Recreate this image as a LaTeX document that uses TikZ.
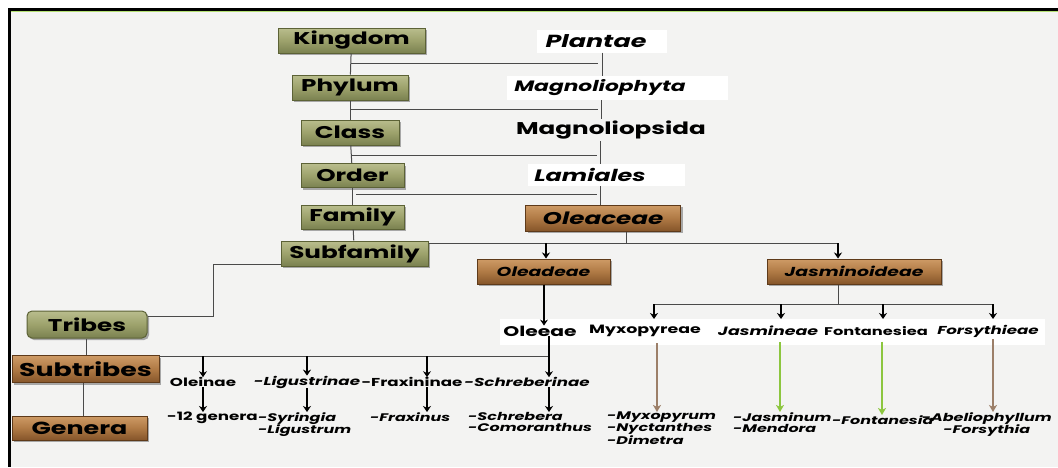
\documentclass[tikz,border=0pt]{standalone}
\usepackage{fontspec}
\newfontfamily\pf{Poppins}[FakeStretch=1.45]
\usetikzlibrary{shadows,arrows.meta}
\definecolor{bg}{HTML}{F3F3F2}
\definecolor{gtop}{HTML}{B9BD8D}
\definecolor{gmid}{HTML}{9DA26C}
\definecolor{gbot}{HTML}{7A8150}
\definecolor{gdraw}{HTML}{5C6236}
\definecolor{btop}{HTML}{CE9B66}
\definecolor{bmid}{HTML}{B07A45}
\definecolor{bbot}{HTML}{85552A}
\definecolor{bdraw}{HTML}{5E3A1A}
\definecolor{arbrown}{HTML}{9C7F69}
\definecolor{argreen}{HTML}{8CC63F}
\definecolor{ln}{HTML}{4A4A4A}
\newcommand\fs[1]{\fontsize{#1}{#1}\selectfont}
\tikzset{
  base/.style={inner sep=0pt, align=center, text=black,
    drop shadow={shadow xshift=2pt,shadow yshift=-2pt,opacity=.45,fill=black!70}},
  gbox/.style={base, top color=gtop, bottom color=gbot, middle color=gmid,
    draw=gdraw, line width=1pt, font=\pf\bfseries\fs{17}},
  bbox/.style={base, top color=btop, bottom color=bbot, middle color=bmid,
    draw=bdraw, line width=1pt, font=\pf\bfseries\fs{17}},
  wbox/.style={fill=white, inner sep=0pt},
  lab/.style={inner sep=0pt, font=\pf\bfseries\itshape\fs{16}},
  sm/.style={inner sep=0pt, font=\pf\bfseries\fs{11.5}},
  smi/.style={inner sep=0pt, align=left, font=\pf\bfseries\itshape\fontsize{11.5}{11.5}\selectfont},
  gi/.style={inner sep=0pt, align=left, font=\pf\bfseries\itshape\fontsize{11}{11.5}\selectfont},
  conn/.style={draw=ln, line width=1pt},
  darr/.style={draw=black, line width=1.6pt, -{Stealth[length=6pt,width=8pt,inset=2pt]}},
  carr/.style={line width=1.8pt, -{Stealth[length=7pt,width=8pt,inset=2pt]}}
}
\begin{document}
\begin{tikzpicture}[x=1pt,y=-1pt]
\useasboundingbox (0,0) rectangle (1058,467);
\fill[white] (0,0) rectangle (1058,467);
\fill[bg] (11,11) rectangle (1058,467);
\fill[black] (8,8) rectangle (1058,11);
\fill[black] (8,8) rectangle (11,467);
\draw[yellow!50!green!60, line width=0.6pt] (11,11.6) -- (1058,11.6);
% left column
\node[gbox, minimum width=147pt, minimum height=25pt] (king) at (351.5,40.5) {Kingdom};
\node[gbox, minimum width=116pt, minimum height=25pt] (phyl) at (350,87.5) {Phylum};
\node[gbox, minimum width=98pt, minimum height=25pt] (clas) at (350,132.5) {Class};
\node[gbox, minimum width=103pt, minimum height=24pt] (orde) at (352.5,175.5) {Order};
\node[gbox, minimum width=103pt, minimum height=24pt] (fami) at (352.5,217) {Family};
\node[gbox, minimum width=147pt, minimum height=25pt] (subf) at (354.5,253.5) {Subfamily};
\node[gbox, rounded corners=5pt, minimum width=120pt, minimum height=27pt] (trib) at (87,324.5) {Tribes};
\node[bbox, minimum width=147pt, minimum height=27pt, font=\pf\bfseries\fs{18.5}] (subt) at (85.5,369) {Subtribes};
\node[bbox, minimum width=135pt, minimum height=24pt, font=\pf\bfseries\fs{17.5}] (gene) at (79.5,428) {Genera};
% right column: white panels and labels
\node[wbox, minimum width=130pt, minimum height=23pt] (plan) at (602,41) {};
\node[lab, font=\pf\bfseries\itshape\fs{17.5}] at (596,41) {Plantae};
\node[wbox, minimum width=221pt, minimum height=24pt] (magp) at (617,88) {};
\node[lab, font=\pf\bfseries\itshape\fs{15}] at (600,88) {Magnoliophyta};
\node[inner sep=0pt, minimum height=22pt, font=\pf\bfseries\fs{17}] (mags) at (611,130) {Magnoliopsida};
\node[wbox, minimum width=157pt, minimum height=22pt] (lami) at (606,175) {};
\node[lab, font=\pf\bfseries\itshape\fs{16.5}] at (590,175) {Lamiales};
\node[bbox, minimum width=155pt, minimum height=26pt, font=\pf\bfseries\itshape\fs{17}] (olea) at (603,218) {Oleaceae};
\node[bbox, minimum width=133pt, minimum height=25pt, font=\pf\bfseries\itshape\fs{13}] (olead) at (543.5,271.5) {Oleadeae};
\node[bbox, minimum width=174pt, minimum height=25pt, font=\pf\bfseries\itshape\fs{13}] (jasm) at (854,271.5) {Jasminoideae};
% vertical links left
\draw[conn] (king) -- (phyl);
\draw[conn] (phyl) -- (clas);
\draw[conn] (clas) -- (orde);
\draw[conn] (orde) -- (fami);
\draw[conn] (fami) -- (subf);
% vertical links right
\draw[conn] (plan.south -| 602,0) -- (magp.north -| 602,0);
\draw[conn] (magp.south -| 601,0) -- (mags.north -| 601,0);
\draw[conn] (mags.south -| 600,0) -- (lami.north -| 600,0);
\draw[conn] (lami.south -| 600,0) -- (olea.north -| 600,0);
% horizontal links
\coordinate (h1a) at (351,63); \coordinate (h1b) at (598,63);
\coordinate (h2a) at (351,109); \coordinate (h2b) at (598,109);
\coordinate (h3a) at (352,155); \coordinate (h3b) at (597,155);
\coordinate (h4a) at (356,194); \coordinate (h4b) at (597,194);
\draw[conn] (h1a) -- (h1b);
\draw[conn] (h2a) -- (h2b);
\draw[conn] (h3a) -- (h3b);
\draw[conn] (h4a) -- (h4b);
% subfamily bus
\coordinate (sb1) at (626,243); \coordinate (sb2) at (838,243); \coordinate (sb0) at (546,243);
\draw[conn] (subf.east |- sb1) -- (sb2);
\draw[conn] (olea.south -| sb1) -- (sb1);
\draw[darr] (sb0) -- (olead.north -| sb0);
\draw[darr] (sb2) -- (jasm.north -| sb2);
% subfamily to tribes
\coordinate (tr1) at (213,316); \coordinate (tr2) at (213,264);
\draw[conn] (trib.east |- tr1) -- (tr1) -- (tr2) -- (subf.west |- tr2);
\draw[conn] (trib.south -| 86,0) -- (subt.north -| 86,0);
\draw[conn] (subt.south -| 83,0) -- (gene.north -| 83,0);
% tribes row
\fill[white] (500,319) rectangle (1045,345);
\node[sm, font=\pf\bfseries\fs{14}] (olee) at (540,331) {Oleeae};
\node[sm, font=\pf\bfseries\fs{12}] (myxo) at (645,331) {Myxopyreae};
\node[sm, font=\pf\bfseries\itshape\fs{12}] (jasn) at (768,331) {Jasmineae};
\node[sm, font=\pf\bfseries\fs{11.2}] (font) at (876,331) {Fontanesiea};
\node[sm, font=\pf\bfseries\itshape\fs{11.5}] (fors) at (988,331) {Forsythieae};
\draw[darr, line width=2pt] (olead.south -| 544,0) -- (olee.north -| 544,0);
\coordinate (jb) at (838,304);
\coordinate (ja1) at (654,304); \coordinate (ja2) at (781,304); \coordinate (ja3) at (883,304); \coordinate (ja4) at (993,304);
\draw[conn] (jasm.south -| jb) -- (jb);
\draw[conn] (ja1) -- (ja4);
\draw[darr] (ja1) -- ++(0,15);
\draw[darr] (ja2) -- ++(0,15);
\draw[darr] (ja3) -- ++(0,15);
\draw[darr] (ja4) -- ++(0,15);
% subtribes row
\node[sm] (olei) at (203,382) {Oleinae};
\node[smi] (ligu) at (307,382) {-Ligustrinae};
\node[sm] (frax) at (412,382) {-Fraxininae};
\node[smi] (schr) at (527,382) {-Schreberinae};
\coordinate (s0) at (159,356);
\coordinate (s1) at (203,356); \coordinate (s2) at (307,356); \coordinate (s3) at (427,356); \coordinate (s4) at (549,356);
\draw[conn] (s0) -- (s4);
\draw[darr] (s1) -- (olei.north -| s1);
\draw[darr] (s2) -- (ligu.north -| s2);
\draw[darr] (s3) -- (frax.north -| s3);
\draw[darr] (olee.south -| s4) -- (schr.north -| s4);
% genera row
\node[sm, anchor=north west] (g1) at (167,412) {-12 genera};
\node[gi, anchor=north west] (g2) at (258,412) {-Syringia\\-Ligustrum};
\node[gi, anchor=north west] (g3) at (370,412) {-Fraxinus};
\node[gi, anchor=north west] (g4) at (468,412) {-Schrebera\\-Comoranthus};
\draw[darr] (olei.south -| s1) -- (g1.north -| s1);
\draw[darr] (ligu.south -| s2) -- (g2.north -| s2);
\draw[darr] (frax.south -| s3) -- (g3.north -| s3);
\draw[darr] (schr.south -| s4) -- (g4.north -| s4);
\node[gi, anchor=north west] (g5) at (607,412) {-Myxopyrum\\-Nyctanthes\\-Dimetra};
\node[gi, anchor=north west] (g6) at (733,412) {-Jasminum\\-Mendora};
\node[gi, anchor=north west] (g7) at (832,415) {-Fontanesia};
\node[gi, anchor=north east, align=center] (g8) at (1052,412) {-Abeliophyllum\\-Forsythia};
\draw[carr, arbrown] (myxo.south -| 657,0) ++(0,6) -- (g5.north -| 657,0);
\draw[carr, argreen] (jasn.south -| 780,0) ++(0,6) -- (g6.north -| 780,0);
\draw[carr, argreen] (font.south -| 882,0) ++(0,6) -- (g7.north -| 882,0);
\draw[carr, arbrown] (fors.south -| 993,0) ++(0,2) -- (g8.north -| 993,0);
\end{tikzpicture}
\end{document}
